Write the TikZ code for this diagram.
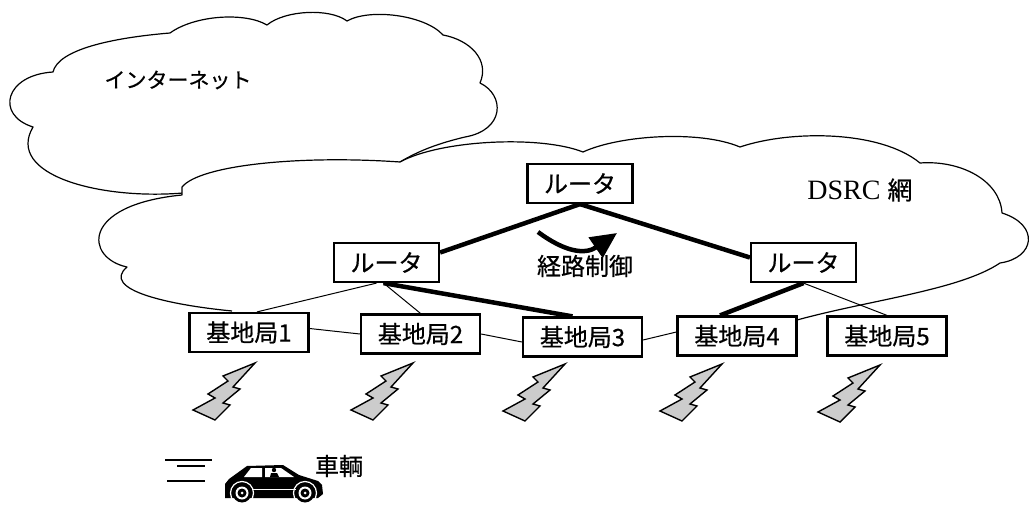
\documentclass[tikz,border=0pt]{standalone}
\usepackage{fontspec}
\newfontfamily\jpfont[FakeBold=0.6]{Noto Sans CJK JP}
\newfontfamily\serifen{Liberation Serif}
\usetikzlibrary{arrows.meta}

% lightning bolt of a radio link, tip at the origin
\tikzset{
  radiobolt/.pic={
    \draw[fill=gray!40, line width=1.4pt, line join=miter]
      (0,0) -- (-32,13) -- (-27,18) -- (-47,31) -- (-40,35) -- (-62,47)
      -- (-40,57) -- (-25,42) -- (-32,40) -- (-15,26) -- (-22,24) -- cycle;
  }
}

% outline of the DSRC cloud, open along its lower edge
\def\dsrcpath{(232,311) .. controls (170,305) and (100,290) .. (127,267)
  .. controls (85,258) and (80,205) .. (182,195) -- (182,187)
  .. controls (200,165) and (300,155) .. (400,162)
  .. controls (440,140) and (540,135) .. (583,152)
  .. controls (620,135) and (700,130) .. (740,147)
  .. controls (790,130) and (880,130) .. (920,163)
  .. controls (960,160) and (1000,180) .. (1002,213)
  .. controls (1040,225) and (1035,258) .. (1000,263)
  .. controls (960,290) and (870,300) .. (797,320)}

\begin{document}
\begin{tikzpicture}[x=1pt,y=-1pt,
  cloudline/.style={line width=1.2pt, line join=round},
  routerbox/.style={draw, line width=2.2pt, fill=white, minimum width=105pt,
    minimum height=39pt, inner sep=0pt, font=\jpfont\fontsize{24}{27}\selectfont},
  stationbox/.style={routerbox, minimum width=119pt},
  mainlink/.style={line width=4.5pt},
  sublink/.style={line width=1pt},
  jplabel/.style={inner sep=0pt, font=\jpfont\fontsize{24}{27}\selectfont},
]
\useasboundingbox (0,0) rectangle (1031,505);
\fill[white] (0,0) rectangle (1031,505);

% Internet cloud (its lower part lies behind the DSRC cloud)
\draw[cloudline, fill=white]
  (53,72) .. controls (58,50) and (110,38) .. (170,33)
  .. controls (195,15) and (245,12) .. (267,25)
  .. controls (285,10) and (330,8) .. (347,21)
  .. controls (370,8) and (425,15) .. (443,35)
  .. controls (470,40) and (490,60) .. (480,83)
  .. controls (505,95) and (505,130) .. (465,137)
  .. controls (440,143) and (420,150) .. (400,162)
  -- (300,185) -- (183,193)
  .. controls (100,200) and (5,175) .. (33,127)
  .. controls (-5,115) and (5,75) .. (53,72) -- cycle;

% DSRC cloud
\fill[white] \dsrcpath -- cycle;
\draw[cloudline] \dsrcpath;

% routers and base stations
\node[routerbox] (rt) at (580,183.5) {ルータ};
\node[routerbox] (rl) at (386.5,262.5) {ルータ};
\node[routerbox] (rr) at (803.5,262.5) {ルータ};
\node[stationbox] (b1) at (249,332.5) {基地局1};
\node[stationbox] (b2) at (420.5,334) {基地局2};
\node[stationbox] (b3) at (582.5,337) {基地局3};
\node[stationbox] (b4) at (737,336) {基地局4};
\node[stationbox] (b5) at (887,336) {基地局5};

% links
\draw[mainlink] (rt.south) -- ([yshift=10pt]rl.east);
\draw[mainlink] (rt.south) -- ([yshift=5pt]rr.west);
\draw[mainlink] ([xshift=-3pt]rl.south) -- ([xshift=-10pt]b3.north);
\draw[mainlink] (rr.south) -- ([xshift=-17pt]b4.north);
\draw[sublink] ([xshift=-10pt]rl.south) -- ([xshift=8pt]b1.north);
\draw[sublink] ([xshift=-3pt]rl.south) -- (b2.north);
\draw[sublink] (rr.south) -- (b5.north);
\draw[sublink] ([yshift=4pt]b1.east) -- (b2.west);
\draw[sublink] (b2.east) -- ([yshift=-5pt]b3.west);
\draw[sublink] ([yshift=-3pt]b3.east) -- ([yshift=4pt]b4.west);

% redraw boxes on top of the link ends
\node[routerbox] at (rt) {ルータ};
\node[routerbox] at (rl) {ルータ};
\node[routerbox] at (rr) {ルータ};
\node[stationbox] at (b1) {基地局1};
\node[stationbox] at (b2) {基地局2};
\node[stationbox] at (b3) {基地局3};
\node[stationbox] at (b4) {基地局4};
\node[stationbox] at (b5) {基地局5};

% route control arrow
\coordinate (rcS) at (538,232);
\coordinate (rcE) at (617,233);
\draw[line width=4.5pt, -{Triangle[length=26pt,width=24pt]}]
  (rcS) .. controls (565,252) and (585,255) .. (rcE);

% labels
\node[jplabel] (inet) at (178,80) {\fontsize{21}{24}\selectfont インターネット};
\node[inner sep=0pt] (dsrc) at (860,190) {{\serifen\fontsize{28}{30}\selectfont DSRC}\hspace{7pt}{\jpfont\fontsize{25}{27}\selectfont 網}};
\node[jplabel] (rc) at (585,266) {経路制御};
\node[jplabel] (veh) at (339,466) {車輌};

% radio links below the base stations
\pic at (255,363) {radiobolt};
\pic at (413,363) {radiobolt};
\pic at (565,364) {radiobolt};
\pic at (722,364) {radiobolt};
\pic at (880,365) {radiobolt};

% speed lines behind the car
\draw[line width=1.2pt] (165,460) -- (212,460);
\draw[line width=1.2pt] (177,466) -- (205,466);
\draw[line width=1.2pt] (167,481) -- (205,481);

% car body
\fill[black] (225,498) -- (225,484) -- (229,479) -- (247,466) -- (283,465)
  -- (299,475) -- (318,481) -- (322,485) -- (323,494) -- (318,498) -- cycle;
% windows and driver
\fill[white] (244,477) -- (251,468) -- (262,468) -- (262,477) -- cycle;
\fill[white] (265,468) -- (281,468) -- (294,477) -- (265,477) -- cycle;
\fill[black] (274,470) circle (2.2);
\fill[black] (270,477) -- (271,473) -- (277,473) -- (279,477) -- cycle;
\draw[white, line width=0.8pt] (252,489) -- (296,489);
% wheels
\foreach \wx in {242,305} {
  \draw[white, line width=1.2pt] (\wx,493) circle (11.5);
  \fill[black] (\wx,493) circle (9.5);
  \fill[white] (\wx,493) circle (6.5);
  \fill[black] (\wx,493) circle (4.5);
  \fill[white] (\wx,493) circle (1.5);
}
\end{tikzpicture}
\end{document}
